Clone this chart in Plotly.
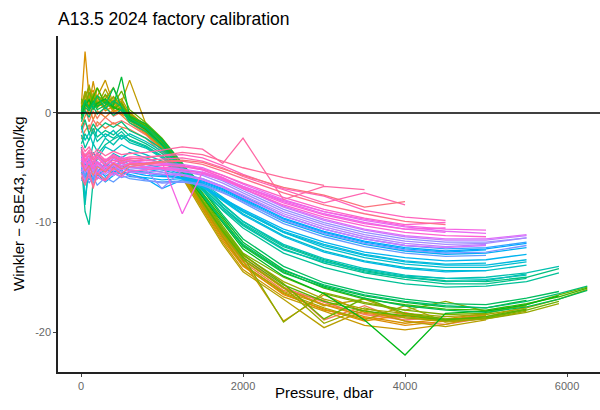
import math
import plotly.graph_objects as go

# Common bottle pressure levels (dbar)
pressure_levels = [5, 50, 100, 150, 200, 300, 400, 500, 600, 800, 1000, 1250, 1500,
                   1750, 2000, 2500, 3000, 3500, 4000, 4500, 5000, 5500, 5900, 6250]

# Winkler - SBE43 (umol/kg) per station, truncated at each station's deepest bottle
s00 = [-1.8, -0.9, -1.5, -0.6, -1.2, -0.4, -1.0, -0.7, -1.1, -2.0, -3.4, -5.8, -8.2, -10.9, -13.2, -15.9, -17.3, -18.4, -18.9, -18.6]
s01 = [-0.6, 0.4, -0.8, 0.2, -0.5, 0.6, -0.3, 0.1, -0.6, -1.7, -3.1, -5.4, -8.0, -10.7, -13.0, -15.6, -18.9, -17.6, -19.0, -19.3, -18.7]
s02 = [-2.4, -1.6, -1.1, -1.9, -0.8, -1.4, -0.9, -1.3, -1.5, -2.3, -3.6, -5.9, -8.5, -11.2, -13.6, -16.2, -17.1, -18.8, -18.2, -19.1]
s03 = [-1.2, -0.3, 0.5, -0.6, 0.2, -0.4, 0.3, -0.2, -0.9, -1.9, -3.3, -5.7, -8.3, -11.0, -13.4, -16.0, -17.5, -18.3, -18.7, -18.9, -18.4]
s04 = [0.3, 1.1, -0.2, 0.7, 1.4, 0.2, 0.6, -0.1, -0.5, -1.6, -3.0, -5.5, -8.4, -11.4, -13.9, -16.6, -17.9, -19.0, -18.4, -18.9]
s05 = [-0.4, 0.8, 1.6, 0.3, 0.9, 1.2, 0.1, 0.5, -0.7, -1.8, -3.2, -5.8, -8.7, -11.6, -14.0, -16.5, -18.0, -18.7, -19.4, -19.0, -18.5]
s06 = [0.8, 5.6, 1.4, 2.1, 0.7, 1.6, 0.5, 1.1, -0.3, -1.4, -2.9, -5.6, -8.6, -11.4, -13.9, -16.3, -17.5, -18.6, -19.2, -18.8, -18.3]
s07 = [-0.5, 1.3, 0.6, 2.9, 1.0, 0.4, 1.2, 0.6, 0.1, -1.2, -2.7, -5.2, -8.2, -11.1, -13.5, -19.0, -16.6, -18.2, -18.6, -19.0, -18.7, -17.9]
s08 = [1.1, 0.3, 1.7, 0.9, 1.5, 3.0, 0.8, 0.4, -0.2, -1.5, -3.0, -5.7, -8.8, -11.8, -14.3, -16.8, -18.1, -19.4, -19.8, -19.3, -18.5]
s09 = [0.2, 1.6, 0.8, 1.3, 0.5, 1.1, 0.9, 1.0, 3.0, -1.0, -2.6, -5.1, -8.0, -10.9, -13.4, -16.0, -17.6, -17.0, -18.4, -18.9, -18.6, -17.7]
s10 = [-0.3, 0.9, 2.6, 0.5, 2.3, 0.8, 1.4, 0.6, -0.4, -1.6, -3.2, -5.9, -9.0, -12.0, -14.5, -17.0, -19.6, -18.0, -19.0, -19.5, -18.9]
s11 = [0.5, 1.8, 0.9, 1.4, 0.6, 2.2, 0.7, 1.3, 0.0, -1.3, -2.8, -5.4, -8.4, -11.3, -13.8, -16.4, -17.8, -18.9, -17.6, -19.1, -18.8, -18.1]
s12 = [0.6, 2.0, 1.1, 1.6, 0.7, 1.3, 2.3, 0.8, -0.1, -1.1, -2.5, -4.9, -7.9, -10.6, -13.0, -15.4, -17.0, -17.9, -18.3, -18.6, -18.4, -17.8, -17.0, -16.1]
s13 = [0.2, 1.2, 0.5, 1.8, 1.1, 0.6, 1.5, 0.7, -0.3, -1.3, -2.8, -5.2, -8.2, -11.0, -13.4, -15.9, -19.2, -17.8, -18.7, -19.0, -18.8, -18.2, -17.4]
s14 = [0.9, 1.5, 2.4, 0.8, 1.4, 0.5, 1.0, 0.4, -0.5, -1.4, -2.6, -5.0, -8.0, -10.7, -13.1, -19.1, -16.4, -17.3, -18.0, -17.2, -18.1, -17.6]
s15 = [0.4, 0.9, 1.3, 0.4, 1.6, 1.0, 0.3, 0.9, -0.2, -1.0, -2.4, -4.7, -7.6, -10.3, -12.8, -15.0, -16.5, -17.4, -18.0, -18.4, -18.3, -17.5, -16.6, -15.9]
s16 = [1.3, 0.6, 1.9, 1.0, 0.5, 1.7, 0.8, 2.0, 0.3, -0.9, -2.3, -4.6, -7.7, -10.5, -12.9, -15.6, -18.8, -16.9, -18.3, -18.8, -18.7, -18.0, -17.2]
s17 = [0.1, 1.0, 0.4, 1.5, 0.8, 1.2, 0.4, 0.9, -0.4, -1.5, -2.9, -5.3, -8.1, -10.8, -13.2, -15.7, -17.2, -18.1, -18.5, -18.9, -18.6, -17.9]
s18 = [0.5, 1.0, 0.6, 1.4, 2.3, 0.8, 0.6, 0.3, -0.4, -1.2, -2.6, -4.9, -7.3, -9.8, -12.1, -14.5, -16.0, -17.0, -17.5, -17.9, -18.0, -17.4, -16.8, -16.0]
s19 = [-0.2, 0.7, 1.2, 0.4, 0.9, 1.3, 0.5, 0.2, -0.6, -1.5, -2.9, -5.3, -7.7, -10.1, -12.4, -14.9, -16.5, -18.9, -22.1, -18.3, -18.1, -17.5, -16.7]
s20 = [0.3, 0.8, 0.4, 1.1, 0.6, 1.0, 0.7, 3.3, -0.3, -1.0, -2.4, -4.6, -7.0, -9.5, -11.8, -14.3, -15.8, -16.7, -17.3, -17.7, -17.8, -17.1]
s21 = [-0.5, 0.5, 0.2, 0.9, 0.3, 0.7, 2.3, 0.5, -0.7, -1.4, -2.8, -5.0, -7.4, -9.9, -12.2, -14.6, -15.9, -16.9, -17.6, -18.0, -18.2, -17.7, -17.0, -16.2]
s22 = [0.0, 1.2, 0.3, 0.8, 1.6, 0.4, 1.1, 0.6, -0.5, -1.3, -2.5, -4.6, -6.9, -9.3, -11.5, -14.0, -15.5, -16.4, -17.0, -17.4, -17.5, -16.9, -16.3]
s23 = [-0.8, 0.2, -0.4, 0.6, -0.1, 0.5, -0.2, 0.3, -0.9, -1.7, -3.0, -5.1, -7.5, -9.9, -12.0, -14.4, -15.7, -16.6, -17.2, -17.6, -17.8, -17.2, -16.5, -15.8]
s24 = [-1.5, -0.6, -1.9, -1.0, -1.6, -0.9, -1.3, -0.8, -1.6, -2.3, -3.3, -4.8, -6.5, -8.3, -9.9, -12.1, -13.4, -14.4, -15.0, -15.3, -15.4, -15.0, -14.2]
s25 = [-2.8, -1.9, -2.5, -1.4, -2.2, -1.6, -2.0, -1.4, -2.1, -2.8, -3.7, -5.1, -6.8, -8.6, -10.2, -12.4, -13.7, -14.6, -15.2, -15.6, -15.6, -15.1]
s26 = [-4.5, -9.0, -10.2, -6.2, -3.8, -2.9, -2.4, -2.0, -2.4, -3.0, -3.9, -5.3, -7.0, -8.9, -10.5, -12.8, -14.1, -15.0, -15.6, -15.9, -15.8, -15.4, -14.6]
s27 = [-2.0, -3.2, -2.4, -1.7, -2.6, -1.9, -2.3, -1.7, -2.5, -3.1, -4.0, -5.3, -6.9, -8.6, -10.1, -12.2, -13.5, -14.5, -15.0, -15.4, -15.3, -14.7]
s28 = [-3.1, -8.4, -4.6, -2.8, -3.5, -2.3, -2.9, -2.1, -2.7, -3.2, -4.1, -5.5, -7.1, -8.8, -10.3, -12.5, -13.6, -14.3, -14.9, -15.1, -15.0, -14.6, -14.0]
s29 = [-1.2, -2.5, -1.8, -2.9, -1.5, -2.2, -1.6, -2.4, -1.9, -2.6, -3.5, -5.0, -6.6, -8.4, -9.9, -12.0, -13.3, -14.2, -14.8, -15.1, -15.2, -14.8]
s30 = [-3.5, -7.8, -5.0, -3.6, -4.2, -3.1, -3.5, -2.9, -3.3, -3.8, -4.4, -5.3, -6.5, -7.9, -9.2, -11.2, -12.6, -13.5, -14.1, -14.4, -14.4, -13.9]
s31 = [-5.2, -6.6, -4.4, -5.0, -3.9, -4.5, -3.7, -4.1, -3.6, -4.1, -4.6, -5.3, -6.4, -7.7, -9.0, -10.9, -12.3, -13.2, -13.8, -14.1, -14.1, -13.6]
s32 = [-4.8, -5.5, -6.1, -4.9, -5.4, -4.6, -5.0, -4.3, -4.7, -4.9, -5.2, -5.7, -6.6, -7.8, -8.9, -10.8, -12.0, -12.9, -13.5, -13.8, -13.7]
s33 = [-5.6, -4.9, -5.8, -5.2, -6.0, -5.1, -5.5, -4.8, -5.2, -5.4, -5.6, -6.0, -6.8, -7.9, -9.0, -10.9, -12.1, -13.0, -13.6, -13.9, -13.9, -13.4]
s34 = [-3.9, -4.8, -4.2, -5.3, -4.5, -5.0, -4.1, -4.6, -4.3, -4.7, -5.0, -5.6, -6.7, -8.0, -9.3, -11.3, -12.7, -13.6, -14.2, -14.5, -14.4]
s35 = [-4.3, -5.9, -5.1, -4.4, -5.6, -4.7, -5.2, -4.5, -4.9, -5.1, -5.4, -5.9, -6.7, -7.8, -8.8, -10.6, -11.8, -12.7, -13.2, -13.5, -13.4, -12.9]
s36 = [-5.9, -6.5, -5.4, -6.1, -5.6, -6.3, -5.7, -5.2, -5.8, -5.9, -6.1, -6.0, -6.4, -7.1, -8.0, -9.9, -11.1, -12.0, -12.6, -12.9, -12.8, -12.3]
s37 = [-4.6, -5.3, -5.9, -5.0, -5.7, -5.2, -4.9, -5.4, -5.6, -6.0, -6.9, -6.1, -6.3, -7.0, -7.9, -9.7, -10.9, -11.8, -12.4, -12.7, -12.5]
s38 = [-5.3, -4.7, -5.5, -5.9, -5.1, -5.8, -5.3, -5.6, -5.4, -5.7, -5.8, -5.9, -6.2, -6.9, -7.8, -9.6, -10.8, -11.7, -12.3, -12.6, -12.4, -11.9]
s39 = [-4.9, -5.8, -5.2, -4.6, -5.5, -4.9, -5.6, -5.0, -5.3, -5.5, -5.7, -5.6, -6.0, -6.7, -7.6, -9.4, -10.6, -11.5, -12.1, -12.4, -12.3, -11.8]
s40 = [-6.2, -5.5, -6.4, -5.8, -6.6, -5.9, -6.3, -5.7, -6.0, -6.2, -6.3, -6.2, -6.5, -7.2, -8.2, -10.1, -11.3, -12.2, -12.8, -13.1, -13.0]
s41 = [-5.1, -6.0, -5.6, -6.3, -5.3, -6.1, -5.5, -5.9, -5.7, -6.1, -6.4, -6.3, -6.6, -7.3, -8.1, -9.8, -11.0, -11.9, -12.5, -12.8, -12.7, -12.1]
s42 = [-4.3, -5.1, -4.6, -5.4, -4.8, -5.3, -4.7, -5.1, -4.9, -5.2, -6.9, -5.2, -5.5, -6.2, -7.1, -8.8, -10.0, -10.9, -11.5, -11.8, -11.8, -11.4]
s43 = [-5.0, -4.4, -5.2, -4.7, -5.5, -4.9, -5.3, -4.6, -5.0, -5.1, -5.2, -5.3, -5.7, -6.4, -7.3, -9.0, -10.2, -11.1, -11.7, -12.0, -11.9, -11.4]
s44 = [-4.7, -5.5, -4.9, -5.8, -5.1, -5.6, -5.0, -5.4, -5.2, -5.3, -5.4, -5.6, -6.0, -6.7, -7.5, -9.2, -10.4, -11.3, -11.9, -12.2, -12.0]
s45 = [-3.9, -4.6, -4.1, -4.9, -4.4, -5.0, -4.5, -4.8, -4.6, -4.9, -5.0, -5.1, -5.4, -6.0, -6.9, -8.6, -9.8, -10.7, -11.3, -11.6, -11.6, -11.2]
s46 = [-5.4, -4.8, -5.7, -5.1, -5.9, -5.3, -5.7, -5.0, -5.4, -5.5, -5.6, -5.7, -6.1, -6.8, -7.7, -9.4, -10.6, -11.5, -12.1, -12.3, -12.1]
s47 = [-4.5, -5.2, -4.4, -5.1, -4.6, -5.4, -4.8, -5.2, -4.7, -4.9, -5.1, -5.3, -5.6, -6.1, -6.9, -8.5, -9.7, -10.6, -11.2, -11.5, -11.5, -11.1]
s48 = [-3.8, -4.5, -3.6, -4.3, -3.9, -4.7, -4.1, -4.5, -4.3, -4.5, -4.6, -4.7, -5.0, -5.7, -6.5, -7.9, -9.0, -9.8, -10.4, -10.8, -11.0]
s49 = [-4.4, -3.7, -4.6, -4.0, -4.8, -4.2, -4.6, -4.0, -4.5, -4.6, -4.7, -4.8, -5.2, -5.9, -6.7, -8.1, -9.2, -10.0, -10.6, -10.9]
s50 = [-3.5, -4.2, -3.9, -4.6, -3.8, -4.4, -3.9, -4.3, -4.1, -4.3, -4.5, -9.2, -5.4, -6.0, -6.7, -8.0, -9.0, -9.7, -10.3, -10.6, -10.7]
s51 = [-4.9, -4.1, -5.3, -4.6, -5.6, -4.8, -5.2, -4.5, -4.9, -5.0, -5.1, -5.2, -5.5, -6.1, -6.8, -8.2, -9.3, -10.1, -10.6, -10.5]
s52 = [-5.5, -6.3, -5.8, -6.6, -5.9, -6.2, -5.4, -5.8, -5.3, -5.2, -5.0, -4.9, -5.2, -5.9, -6.9, -8.4, -9.5, -10.3, -10.9, -11.2, -11.3]
s53 = [-4.1, -4.9, -4.4, -5.1, -4.5, -5.2, -4.6, -4.9, -4.6, -4.7, -4.8, -4.8, -5.1, -5.7, -6.4, -7.7, -8.8, -9.6, -10.2, -10.0]
s54 = [-3.2, -3.9, -3.4, -4.1, -3.6, -4.3, -3.8, -4.2, -4.0, -4.0, -3.9, -3.8, -4.1, -4.8, -5.6, -6.9, -7.6, -8.9, -9.5, -9.8]
s55 = [-3.6, -4.4, -3.9, -4.7, -4.1, -4.8, -4.3, -4.6, -4.4, -4.3, -4.2, -4.1, -4.4, -5.0, -5.8, -7.0, -8.2, -7.3, -8.4]
s56 = [-2.9, -3.5, -3.1, -3.8, -3.3, -3.9, -3.5, -3.8, -3.7, -3.6, -3.4, -3.1, -3.3, -4.6, -2.3, -7.9, -6.7, -7.0]
s57 = [-3.4, -4.0, -3.6, -4.3, -3.8, -4.5, -4.0, -4.4, -4.2, -4.1, -3.9, -3.6, -3.8, -4.4, -5.0, -5.9, -6.6]
s58 = [-5.8, -6.6, -5.2, -6.9, -5.5, -6.1, -5.0, -5.6, -4.9, -4.7, -4.5, -4.4, -4.7, -5.3, -6.0, -7.3, -8.4, -9.2, -9.9, -10.2]
s59 = [-4.5, -5.3, -4.8, -5.7, -4.9, -5.4, -4.6, -5.1, -4.7, -4.6, -4.4, -4.3, -4.5, -5.1, -5.7, -6.8, -7.5, -8.6, -8.1]

stations = [s00, s01, s02, s03, s04, s05, s06, s07, s08, s09,
            s10, s11, s12, s13, s14, s15, s16, s17, s18, s19,
            s20, s21, s22, s23, s24, s25, s26, s27, s28, s29,
            s30, s31, s32, s33, s34, s35, s36, s37, s38, s39,
            s40, s41, s42, s43, s44, s45, s46, s47, s48, s49,
            s50, s51, s52, s53, s54, s55, s56, s57, s58, s59]

x_ticks = [0, 2000, 4000, 6000]
y_ticks = [0, -10, -20]


def hcl_hex(h, c=100.0, l=65.0):
    hr = math.radians(h)
    u, v = c * math.cos(hr), c * math.sin(hr)
    Y = ((l + 16) / 116) ** 3
    un, vn = 0.19783, 0.46832
    up = u / (13 * l) + un
    vp = v / (13 * l) + vn
    X = Y * 9 * up / (4 * vp)
    Z = Y * (12 - 3 * up - 20 * vp) / (4 * vp)
    r = 3.2404542 * X - 1.5371385 * Y - 0.4985314 * Z
    g = -0.9692660 * X + 1.8760108 * Y + 0.0415560 * Z
    b = 0.0556434 * X - 0.2040259 * Y + 1.0572252 * Z

    def gam(t):
        t = max(0.0, min(1.0, t))
        return 12.92 * t if t <= 0.0031308 else 1.055 * t ** (1 / 2.4) - 0.055
    return '#%02x%02x%02x' % tuple(int(round(gam(t) * 255)) for t in (r, g, b))


n = len(stations)
fig = go.Figure()
for i, vals in enumerate(stations):
    col = hcl_hex(15 + 360.0 * i / n)
    fig.add_trace(go.Scatter(
        x=pressure_levels[:len(vals)], y=vals, mode="lines",
        line=dict(color=col, width=1.3), showlegend=False, hoverinfo="skip"))

FONT = "Liberation Sans, Arial, Helvetica, sans-serif"
W, H = 600, 410
L, R, T, B = 58, 0, 36, 38

fig.add_shape(type="line", xref="paper", yref="y", x0=0, x1=1, y0=0, y1=0,
              line=dict(color="black", width=1.4), layer="above")

fig.update_layout(
    width=W, height=H,
    margin=dict(l=L, r=R, t=T, b=B, autoexpand=False),
    paper_bgcolor="white", plot_bgcolor="white",
    font=dict(family=FONT, color="black"),
    title=dict(text="A13.5 2024 factory calibration", x=0, xref="paper", xanchor="left",
               y=1 - 19 / H, yref="container", yanchor="middle",
               font=dict(size=17.5, family=FONT, color="black")),
    xaxis=dict(range=[-284, 6407], tickvals=x_ticks, ticktext=[str(t) for t in x_ticks],
               showgrid=False, zeroline=False, showline=True, linecolor="#222", linewidth=1.5,
               ticks="outside", ticklen=3, tickcolor="#444", tickwidth=1,
               tickfont=dict(size=11, color="#666", family=FONT)),
    yaxis=dict(range=[-23.65, 7.03], tickvals=y_ticks, ticktext=[str(t) for t in y_ticks],
               showgrid=False, zeroline=False, showline=True, linecolor="#222", linewidth=1.5,
               ticks="outside", ticklen=3, tickcolor="#444", tickwidth=1,
               tickfont=dict(size=11, color="#666", family=FONT)),
    annotations=[
        dict(text="Pressure, dbar", xref="paper", yref="paper",
             x=(324 - L) / (W - L), y=-(392 - (H - B)) / (H - T - B),
             xanchor="center", yanchor="middle", showarrow=False,
             font=dict(size=15, family=FONT, color="black")),
        dict(text="Winkler \u2212 SBE43, umol/kg", xref="paper", yref="paper",
             x=(18 - L) / (W - L), y=0.5, textangle=-90,
             xanchor="center", yanchor="middle", showarrow=False,
             font=dict(size=15, family=FONT, color="black")),
    ],
)

fig.write_html("out.html")
